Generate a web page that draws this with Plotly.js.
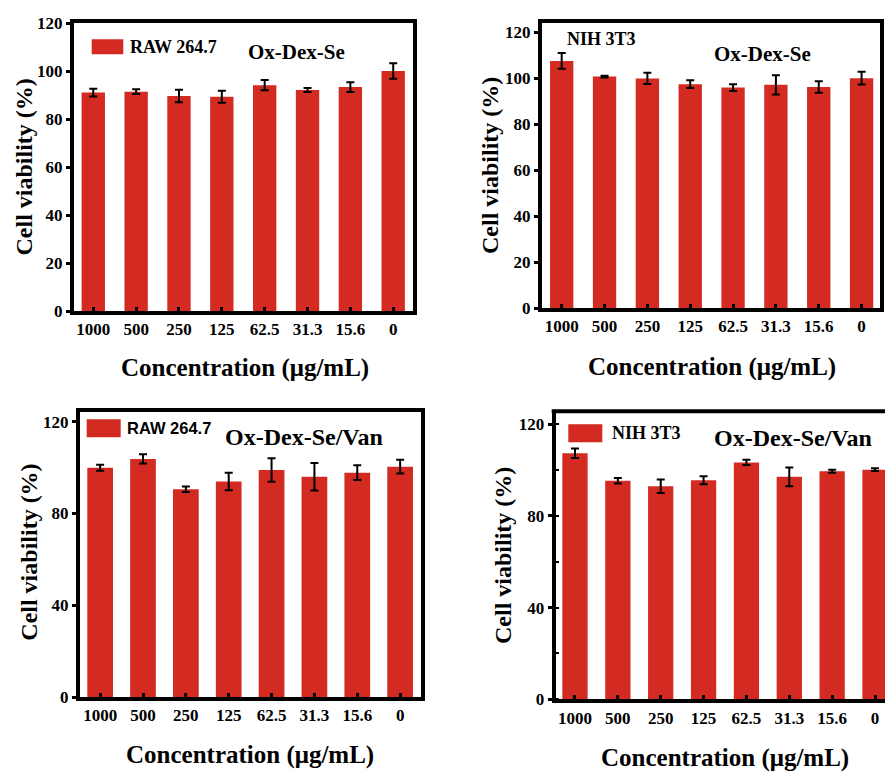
<!DOCTYPE html>
<html>
<head>
<meta charset="utf-8">
<script src="https://cdn.plot.ly/plotly-3.0.1.min.js"></script>
<style>html,body{margin:0;padding:0;background:#fff;}#chart{width:885px;height:772px;}</style>
</head>
<body>
<div id="chart"></div>
<script>
// Data
var categories = ['1000', '500', '250', '125', '62.5', '31.3', '15.6', '0'];
var rawSeValues = [91.0, 91.4, 89.6, 89.3, 94.1, 92.1, 93.3, 100.0];
var rawSeErrors = [1.6, 1.0, 2.6, 2.5, 2.1, 0.8, 2.0, 3.2];
var nihSeValues = [107.5, 100.7, 99.9, 97.4, 95.9, 97.1, 96.2, 100.0];
var nihSeErrors = [3.4, 0.4, 2.4, 1.7, 1.5, 4.2, 2.5, 2.8];
var rawVanValues = [100.0, 103.8, 90.6, 94.0, 99.0, 96.0, 97.8, 100.4];
var rawVanErrors = [1.3, 2.0, 1.2, 3.8, 5.1, 6.0, 3.2, 3.0];
var nihVanValues = [107.3, 95.3, 92.9, 95.5, 103.3, 97.0, 99.4, 100.1];
var nihVanErrors = [2.1, 1.2, 2.9, 1.7, 1.1, 4.1, 0.65, 0.6];
var yTicks12 = [0, 20, 40, 60, 80, 100, 120];
var yTicks4 = [0, 40, 80, 120];

var RED = 'rgb(211,42,34)';
var SERIF = 'Liberation Serif, Times New Roman, serif';
var SANS = 'Liberation Sans, Arial, sans-serif';
var W = 885, H = 772;
function px(x) { return x / W; }
function py(y) { return (H - y) / H; }

function barTrace(vals, errs, xa, ya, width, name) {
  return {
    type: 'bar', x: categories, y: vals, name: name,
    xaxis: xa, yaxis: ya, width: width,
    marker: {color: RED, line: {width: 0}},
    error_y: {type: 'data', array: errs, visible: true, color: '#000', thickness: 2, width: 4},
    showlegend: false, hoverinfo: 'y'
  };
}

var data = [
  barTrace(rawSeValues, rawSeErrors, 'x', 'y', 0.545, 'RAW 264.7'),
  barTrace(nihSeValues, nihSeErrors, 'x2', 'y2', 0.545, 'NIH 3T3'),
  barTrace(rawVanValues, rawVanErrors, 'x3', 'y3', 0.6, 'RAW 264.7'),
  barTrace(nihVanValues, nihVanErrors, 'x4', 'y4', 0.59, 'NIH 3T3')
];

function xAxis(domain, range, anchor, mirror) {
  return {
    domain: domain, range: range, anchor: anchor, type: 'category',
    showline: true, linecolor: '#000', linewidth: 4, mirror: mirror,
    ticks: 'inside', ticklen: 4, tickwidth: 3, tickcolor: '#000',
    showgrid: false, zeroline: false, fixedrange: true,
    ticklabelstandoff: 0,
    tickfont: {family: SERIF, size: 17, color: '#000', weight: 'bold'}
  };
}
function yAxis(domain, range, anchor, tickvals, mirror, minor) {
  var a = {
    domain: domain, range: range, anchor: anchor,
    tickvals: tickvals, ticktext: tickvals.map(String),
    showline: true, linecolor: '#000', linewidth: 4, mirror: mirror,
    ticks: 'outside', ticklen: 4, tickwidth: 3, tickcolor: '#000',
    showgrid: false, zeroline: false, fixedrange: true,
    tickfont: {family: SERIF, size: 17, color: '#000', weight: 'bold'}
  };
  if (minor) a.minor = {dtick: 20, ticks: 'inside', ticklen: 3, tickwidth: 2, tickcolor: '#000', showgrid: false};
  return a;
}

var titleFont = {family: SERIF, size: 24, color: '#000', weight: 'bold'};
var xTitleFont = {family: SERIF, size: 25, color: '#000', weight: 'bold'};
function ann(text, x, y, opts) {
  var a = {text: text, x: px(x), y: py(y), xref: 'paper', yref: 'paper', showarrow: false,
           xanchor: 'center', yanchor: 'middle', font: titleFont};
  for (var k in opts) a[k] = opts[k];
  return a;
}
var xTitle = 'Concentration (μg/mL)';
var yTitle = 'Cell viability (%)';
var legFont = {family: SERIF, size: 18, color: '#000', weight: 'bold'};
var legFontSans = {family: SANS, size: 16.5, color: '#000', weight: 'bold'};
var panelFont = {family: SERIF, size: 21, color: '#000', weight: 'bold'};
var panelFontBig = {family: SERIF, size: 24, color: '#000', weight: 'bold'};

var annotations = [
  ann(xTitle, 245, 368, {font: xTitleFont}), ann(xTitle, 711.7, 367, {font: xTitleFont}),
  ann(xTitle, 250, 755, {font: xTitleFont}), ann(xTitle, 724.8, 757.7, {font: xTitleFont}),
  ann(yTitle, 23, 167.5, {textangle: -90}), ann(yTitle, 490, 166, {textangle: -90}),
  ann(yTitle, 29, 552.7, {textangle: -90}), ann(yTitle, 503, 555, {textangle: -90}),
  ann('RAW 264.7', 128, 47, {xanchor: 'left', font: legFont}),
  ann('Ox-Dex-Se', 296.7, 52, {font: panelFont}),
  ann('NIH 3T3', 565, 39, {xanchor: 'left', font: legFont}),
  ann('Ox-Dex-Se', 762.5, 54, {font: panelFont}),
  ann('RAW 264.7', 125, 427.5, {xanchor: 'left', font: legFontSans}),
  ann('Ox-Dex-Se/Van', 304, 436.7, {font: panelFontBig}),
  ann('NIH 3T3', 610, 432.5, {xanchor: 'left', font: legFont}),
  ann('Ox-Dex-Se/Van', 792.7, 438, {font: panelFontBig})
];

function rect(x0, y0, x1, y1) {
  return {type: 'rect', xref: 'paper', yref: 'paper', x0: px(x0), x1: px(x1), y0: py(y1), y1: py(y0),
          fillcolor: RED, line: {width: 0}, layer: 'above'};
}
var shapes = [
  rect(91.7, 39.3, 123.3, 54.3),
  rect(86.7, 419.3, 120.7, 437.3),
  rect(568.3, 424.3, 602.3, 442.3),
  {type: 'line', xref: 'paper', yref: 'paper', x0: px(551.7), x1: 1, y0: py(411.3), y1: py(411.3),
   line: {color: '#000', width: 4}}
];

var layout = {
  width: W, height: H, margin: {l: 0, r: 0, t: 0, b: 0},
  paper_bgcolor: '#fff', plot_bgcolor: '#fff', showlegend: false, bargap: 0.4,
  xaxis: xAxis([px(74), px(412.5)], [-0.45, 7.45], 'y', true),
  yaxis: yAxis([py(311), py(23)], [0, 120], 'x', yTicks12, true, false),
  xaxis2: xAxis([px(542), px(880)], [-0.46, 7.43], 'y2', true),
  yaxis2: yAxis([py(308), py(23)], [0, 124], 'x2', yTicks12, true, false),
  xaxis3: xAxis([px(80), px(420.7)], [-0.47, 7.48], 'y3', true),
  yaxis3: yAxis([py(697), py(411.7)], [0, 124.4], 'x3', yTicks4, true, false),
  xaxis4: xAxis([px(555.7), 1], [-0.45, 7.233], 'y4', false),
  yaxis4: yAxis([py(699.3), py(413.3)], [0, 124.7], 'x4', yTicks4, false, true),
  annotations: annotations,
  shapes: shapes
};

Plotly.newPlot('chart', data, layout, {displayModeBar: false, staticPlot: true});
</script>
</body>
</html>
